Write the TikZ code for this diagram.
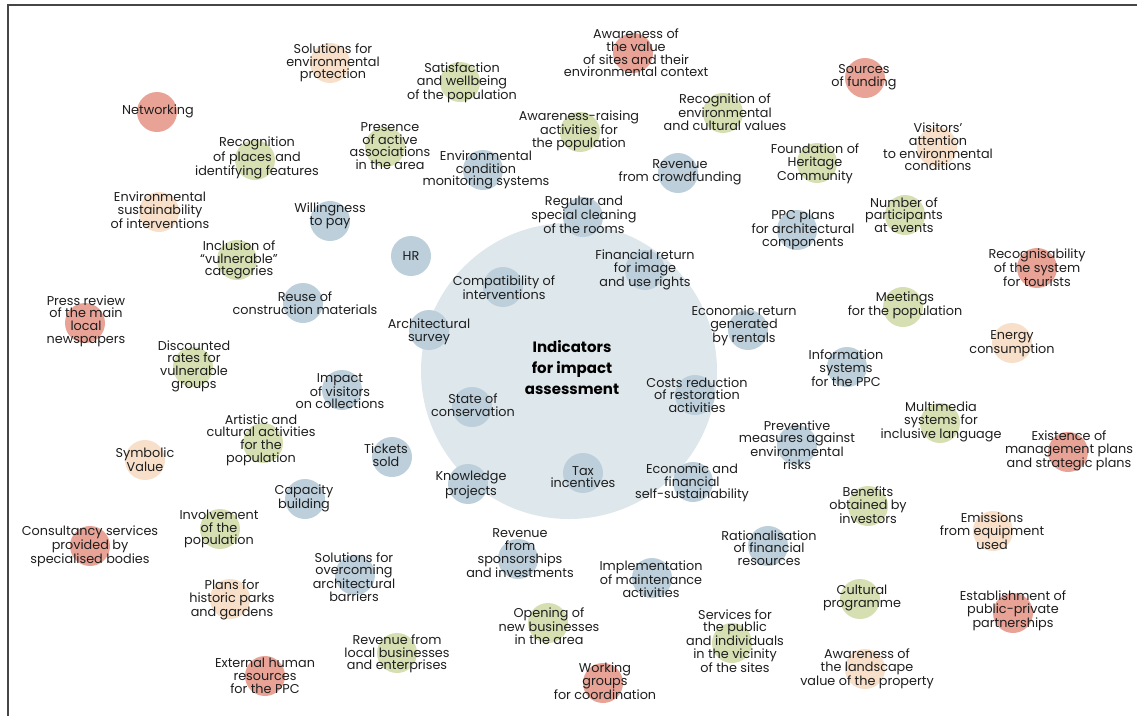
\documentclass[tikz,border=0pt]{standalone}
\usepackage{fontspec}
\setmainfont{Poppins}
\pgfdeclarelayer{background}
\pgfsetlayers{background,main}
\definecolor{cblue}{RGB}{188,207,219}
\definecolor{cgreen}{RGB}{213,223,178}
\definecolor{cred}{RGB}{232,163,150}
\definecolor{cpeach}{RGB}{248,223,201}
\definecolor{ccenter}{RGB}{222,231,236}
\definecolor{ctext}{RGB}{30,30,30}
\definecolor{cframe}{RGB}{70,70,70}
\tikzset{
  dot/.style={circle,draw=none,minimum size=40pt,inner sep=0pt},
  lbl/.style={align=center,inner sep=0pt,text=ctext,font=\fontsize{12.8}{12.7}\selectfont},
  hub/.style={circle,draw=none,fill=ccenter,minimum size=296pt,inner sep=0pt},
  hubtext/.style={align=center,inner sep=0pt,text=black,font=\fontsize{15}{21}\selectfont\bfseries},
  frameline/.style={draw=cframe,line width=1.6pt}
}
% name, circle x, circle y, colour, text x, text y, text
\newcommand\indic[7]{%
  \begin{pgfonlayer}{background}\node[dot,fill=#4] (c-#1) at (#2,#3) {};\end{pgfonlayer}
  \node[lbl] (t-#1) at (#5,#6) {#7};}
\begin{document}
\begin{tikzpicture}[x=1pt,y=-1pt]
\useasboundingbox (0,0) rectangle (1137,716);
\coordinate (fTL) at (8,5);
\coordinate (fTR) at (1137,5);
\coordinate (fBL) at (8,716);
\draw[frameline] (fBL) -- (fTL) -- (fTR);
\begin{pgfonlayer}{background}
\node[hub] (hub) at (569,371) {};
\end{pgfonlayer}
\node[hubtext] (hubt) at (572,368) {Indicators\\for impact\\assessment};
\indic{solenv}{330}{63}{cpeach}{333}{63}{Solutions for\\environmental\\protection}
\indic{netw}{157}{112}{cred}{158}{111}{Networking}
\indic{recplaces}{255}{160}{cgreen}{257}{158}{Recognition\\of places and\\identifying features}
\indic{envsust}{159}{212}{cpeach}{160}{210}{Environmental\\sustainability\\of interventions}
\indic{willing}{330}{221}{cblue}{330}{216}{Willingness\\to pay}
\indic{presence}{385}{147}{cgreen}{390}{146}{Presence\\of active\\associations\\in the area}
\indic{satisf}{460}{82}{cgreen}{462}{83}{Satisfaction\\and wellbeing\\of the population}
\indic{awval}{633}{53}{cred}{636}{53}{Awareness of\\the value\\of sites and their\\environmental context}
\indic{awrais}{580}{132}{cgreen}{579}{131}{Awareness-raising\\activities for\\the population}
\indic{recenv}{723}{113}{cgreen}{725}{112}{Recognition of\\environmental\\and cultural values}
\indic{envmon}{483}{170}{cblue}{486}{170}{Environmental\\condition\\monitoring systems}
\indic{crowd}{678}{173}{cblue}{680}{172}{Revenue\\from crowdfunding}
\indic{cleaning}{583}{217}{cblue}{584}{215}{Regular and\\special cleaning\\of the rooms}
\indic{sources}{865}{78}{cred}{864}{77}{Sources\\of funding}
\indic{visitors}{937}{147}{cpeach}{938}{147}{Visitors'\\attention\\to environmental\\conditions}
\indic{foundation}{817}{163}{cgreen}{815}{164}{Foundation of\\Heritage\\Community}
\indic{number}{905}{215}{cgreen}{904}{215}{Number of\\participants\\at events}
\indic{ppcplans}{797}{230}{cblue}{803}{230}{PPC plans\\for architectural\\components}
\indic{inclusion}{237}{260}{cgreen}{239}{260}{Inclusion of\\“vulnerable”\\categories}
\indic{reuse}{303}{303}{cblue}{305}{303}{Reuse of\\construction materials}
\indic{press}{85}{323}{cred}{86}{321}{Press review\\of the main\\local\\newspapers}
\indic{discount}{193}{367}{cgreen}{194}{366}{Discounted\\rates for\\vulnerable\\groups}
\indic{impact}{342}{390}{cblue}{340}{391}{Impact\\of visitors\\on collections}
\indic{artistic}{263}{443}{cgreen}{261}{440}{Artistic and\\cultural activities\\for the\\population}
\indic{symbolic}{145}{460}{cpeach}{145}{460}{Symbolic\\Value}
\indic{tickets}{392}{457}{cblue}{386}{455}{Tickets\\sold}
\indic{hr}{411}{256}{cblue}{411}{256}{HR}
\indic{compat}{503}{287}{cblue}{504}{288}{Compatibility of\\interventions}
\indic{finret}{645}{270}{cblue}{645}{270}{Financial return\\for image\\and use rights}
\indic{archsurv}{429}{330}{cblue}{429}{332}{Architectural\\survey}
\indic{econret}{748}{330}{cblue}{744}{326}{Economic return\\generated\\by rentals}
\indic{state}{472}{407}{cblue}{473}{405}{State of\\conservation}
\indic{costs}{695}{395}{cblue}{697}{395}{Costs reduction\\of restoration\\activities}
\indic{tax}{583}{473}{cblue}{583}{477}{Tax\\incentives}
\indic{knowledge}{468}{484}{cblue}{471}{485}{Knowledge\\projects}
\indic{econfin}{693}{482}{cblue}{692}{483}{Economic and\\financial\\self-sustainability}
\indic{recog}{1037}{268}{cred}{1037}{268}{Recognisability\\of the system\\for tourists}
\indic{meetings}{903}{307}{cgreen}{905}{305}{Meetings\\for the population}
\indic{energy}{1012}{343}{cpeach}{1012}{344}{Energy\\consumption}
\indic{infosys}{847}{367}{cblue}{846}{368}{Information\\systems\\for the PPC}
\indic{multimedia}{940}{423}{cgreen}{941}{422}{Multimedia\\systems for\\inclusive language}
\indic{preventive}{797}{445}{cblue}{797}{445}{Preventive\\measures against\\environmental\\risks}
\indic{existence}{1068}{452}{cred}{1069}{451}{Existence of\\management plans\\and strategic plans}
\indic{capacity}{305}{499}{cblue}{304}{498}{Capacity\\building}
\indic{involvement}{220}{529}{cgreen}{219}{529}{Involvement\\of the\\population}
\indic{consult}{90}{546}{cred}{90}{546}{Consultancy services\\provided by\\specialised bodies}
\indic{solbarr}{355}{575}{cblue}{354}{577}{Solutions for\\overcoming\\architectural\\barriers}
\indic{parks}{230}{599}{cpeach}{232}{600}{Plans for\\historic parks\\and gardens}
\indic{external}{265}{676}{cred}{265}{676}{External human\\resources\\for the PPC}
\indic{revlocal}{397}{653}{cgreen}{397}{654}{Revenue from\\local businesses\\and enterprises}
\indic{sponsor}{518}{559}{cblue}{520}{553}{Revenue\\from\\sponsorships\\and investments}
\indic{implement}{652}{578}{cblue}{651}{579}{Implementation\\of maintenance\\activities}
\indic{rational}{768}{546}{cblue}{769}{548}{Rationalisation\\of financial\\resources}
\indic{opening}{548}{623}{cgreen}{549}{626}{Opening of\\new businesses\\in the area}
\indic{working}{603}{683}{cred}{605}{681}{Working\\groups\\for coordination}
\indic{services}{732}{643}{cgreen}{735}{641}{Services for\\the public\\and individuals\\in the vicinity\\of the sites}
\indic{benefits}{868}{506}{cgreen}{868}{505}{Benefits\\obtained by\\investors}
\indic{emissions}{993}{531}{cpeach}{992}{531}{Emissions\\from equipment\\used}
\indic{cultural}{860}{599}{cgreen}{862}{598}{Cultural\\programme}
\indic{establish}{1013}{613}{cred}{1013}{611}{Establishment of\\public-private\\partnerships}
\indic{awland}{865}{669}{cpeach}{867}{669}{Awareness of\\the landscape\\value of the property}
\end{tikzpicture}
\end{document}
